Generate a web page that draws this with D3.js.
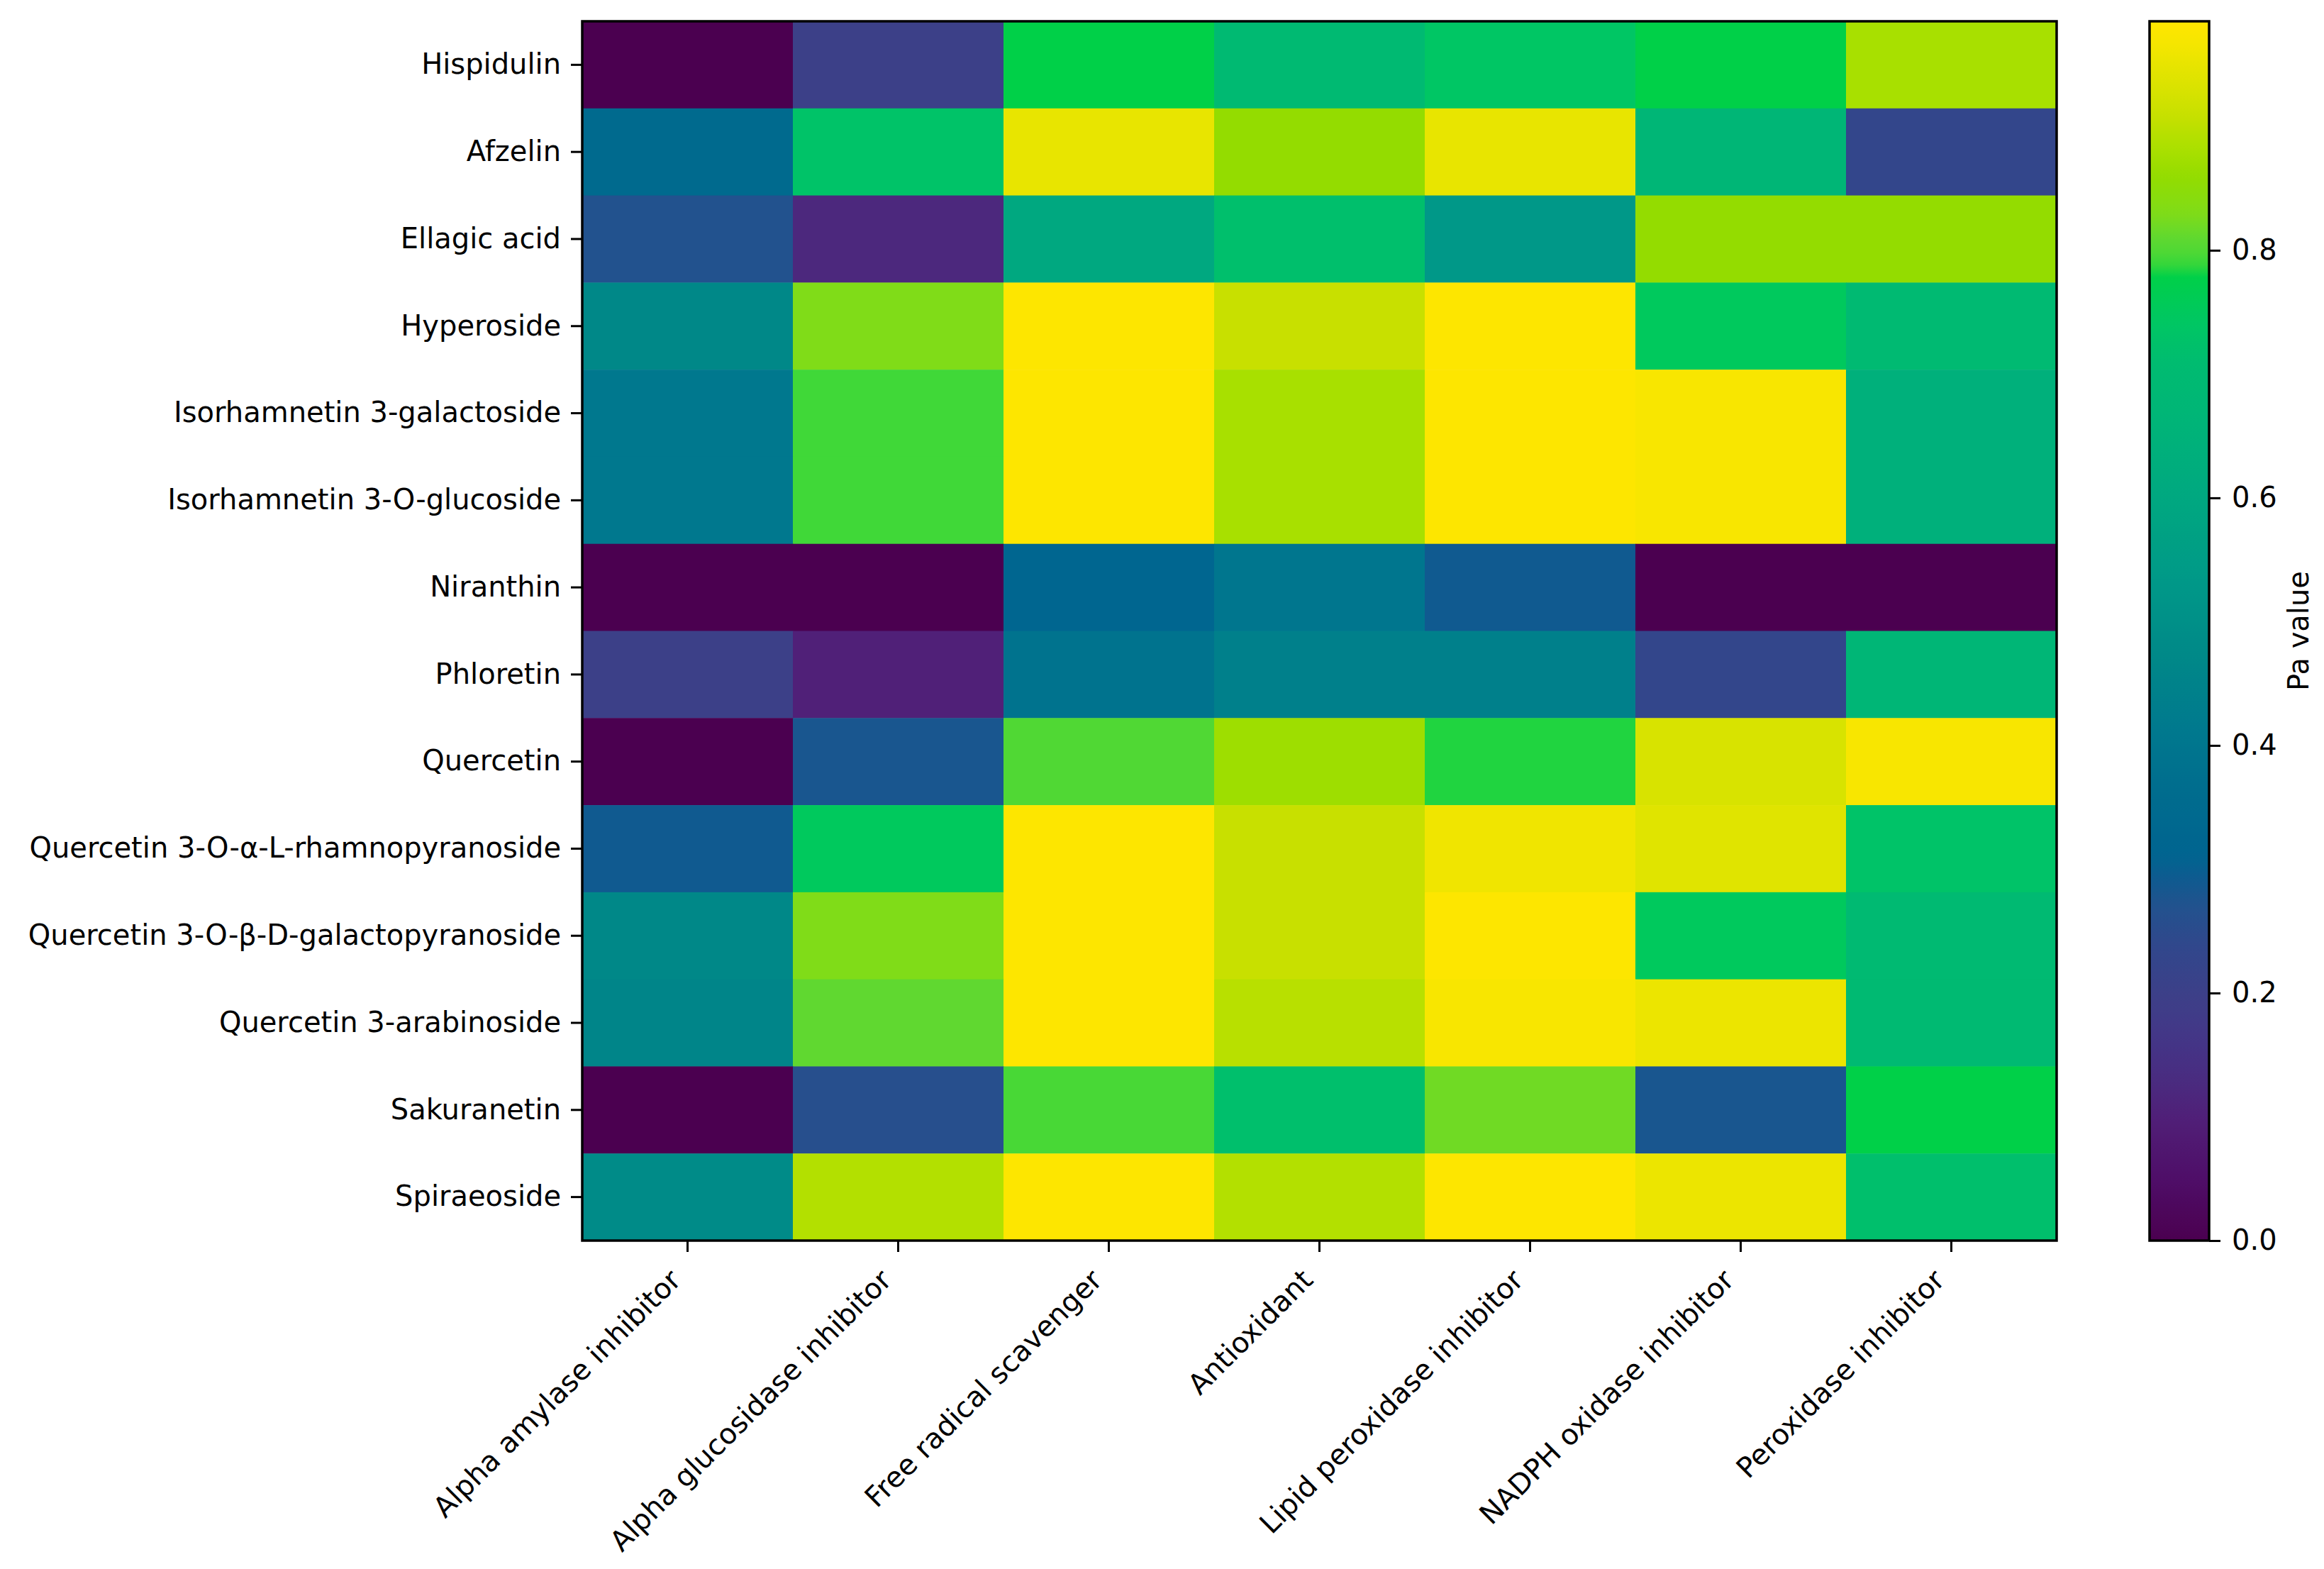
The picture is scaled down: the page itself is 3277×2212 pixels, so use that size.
<!DOCTYPE html>
<html>
<head>
<meta charset="utf-8">
<script src="https://cdn.jsdelivr.net/npm/d3@7"></script>
<style>
	body { margin: 0; background: #fff; }
	text { font-family: "DejaVu Sans", sans-serif; fill: #000; }
</style>
</head>
<body>
<svg id="chart" width="3277" height="2212"></svg>
<script>
// Rows (compounds), top to bottom
var compounds = [
	"Hispidulin", "Afzelin", "Ellagic acid", "Hyperoside",
	"Isorhamnetin 3-galactoside", "Isorhamnetin 3-O-glucoside", "Niranthin",
	"Phloretin", "Quercetin", "Quercetin 3-O-\u03b1-L-rhamnopyranoside",
	"Quercetin 3-O-\u03b2-D-galactopyranoside", "Quercetin 3-arabinoside",
	"Sakuranetin", "Spiraeoside"
];

// Columns (activities)
var activities = [
	"Alpha amylase inhibitor", "Alpha glucosidase inhibitor", "Free radical scavenger",
	"Antioxidant", "Lipid peroxidase inhibitor", "NADPH oxidase inhibitor", "Peroxidase inhibitor"
];

// Pa values, one row per compound, in activity order
var paHispidulin   = [0.00, 0.20, 0.78, 0.70, 0.74, 0.78, 0.88];
var paAfzelin      = [0.35, 0.73, 0.95, 0.86, 0.95, 0.67, 0.23];
var paEllagic      = [0.27, 0.12, 0.60, 0.72, 0.53, 0.86, 0.86];
var paHyperoside   = [0.47, 0.83, 0.98, 0.91, 0.98, 0.75, 0.70];
var paIsoGal       = [0.41, 0.79, 0.98, 0.88, 0.98, 0.97, 0.64];
var paIsoGlc       = [0.41, 0.79, 0.98, 0.88, 0.98, 0.97, 0.64];
var paNiranthin    = [0.00, 0.00, 0.32, 0.40, 0.29, 0.00, 0.00];
var paPhloretin    = [0.20, 0.10, 0.39, 0.44, 0.44, 0.23, 0.67];
var paQuercetin    = [0.00, 0.28, 0.80, 0.87, 0.785, 0.93, 0.97];
var paQRham        = [0.29, 0.75, 0.98, 0.91, 0.96, 0.94, 0.73];
var paQGal         = [0.47, 0.83, 0.98, 0.91, 0.98, 0.75, 0.70];
var paQAra         = [0.46, 0.81, 0.98, 0.895, 0.97, 0.955, 0.70];
var paSakuranetin  = [0.00, 0.26, 0.795, 0.72, 0.82, 0.28, 0.78];
var paSpiraeoside  = [0.48, 0.89, 0.98, 0.89, 0.98, 0.955, 0.72];

var paRows = [paHispidulin, paAfzelin, paEllagic, paHyperoside, paIsoGal, paIsoGlc,
	paNiranthin, paPhloretin, paQuercetin, paQRham, paQGal, paQAra, paSakuranetin, paSpiraeoside];

var colorTicks = [0, 0.2, 0.4, 0.6, 0.8];
var vmax = 0.985;

// Colour map (saturated viridis-like)
var cmap = [
	[0.00, "#4b0050"], [0.05, "#4f0e68"], [0.10, "#502078"], [0.13, "#4a2c80"],
	[0.17, "#423888"], [0.20, "#3c4088"], [0.24, "#30488c"], [0.27, "#22528e"],
	[0.295, "#0c5c90"], [0.31, "#006490"], [0.36, "#006c8e"], [0.41, "#00788e"],
	[0.47, "#008888"], [0.53, "#009888"], [0.60, "#00a880"], [0.66, "#00b478"],
	[0.71, "#00bc70"], [0.74, "#00c664"], [0.78, "#00d048"], [0.79, "#40d838"],
	[0.81, "#60d830"], [0.83, "#80dc18"], [0.86, "#94dc00"], [0.88, "#a8e000"],
	[0.91, "#c8e000"], [0.94, "#e0e400"], [0.97, "#f8e600"], [0.985, "#ffe600"]
];
var color = d3.scaleLinear()
	.domain(cmap.map(function(d) { return d[0]; }))
	.range(cmap.map(function(d) { return d[1]; }))
	.interpolate(d3.interpolateRgb)
	.clamp(true);

// Layout
var plot = { left: 821, top: 30, right: 2900, bottom: 1749 },
	cbar = { left: 3031, right: 3115 },
	fontSize = 40,
	tickLen = 16,
	lineW = 3.5;

var svg = d3.select('#chart');

var x = d3.scaleBand().domain(activities).range([plot.left, plot.right]).padding(0);
var y = d3.scaleBand().domain(compounds).range([plot.top, plot.bottom]).padding(0);

// Cells
var cells = [];
paRows.forEach(function(row, i) {
	row.forEach(function(v, j) {
		cells.push({ r: compounds[i], c: activities[j], v: v });
	});
});

svg.append('g').attr('class', 'cells')
	.selectAll('rect')
	.data(cells)
	.enter().append('rect')
		.attr('x', function(d) { return x(d.c); })
		.attr('y', function(d) { return y(d.r); })
		.attr('width', x.bandwidth() + 0.5)
		.attr('height', y.bandwidth() + 0.5)
		.style('fill', function(d) { return color(d.v); });

// Frame
svg.append('rect')
	.attr('x', plot.left).attr('y', plot.top)
	.attr('width', plot.right - plot.left).attr('height', plot.bottom - plot.top)
	.style('fill', 'none').style('stroke', '#000').style('stroke-width', lineW);

// Y axis
var yAxis = svg.append('g')
	.attr('transform', 'translate(' + plot.left + ',0)')
	.call(d3.axisLeft(y).tickSize(tickLen).tickPadding(14));
yAxis.select('.domain').remove();
yAxis.selectAll('.tick line').style('stroke-width', lineW - 0.5);
yAxis.selectAll('.tick text')
	.style('font-size', fontSize + 'px')
	.style('font-family', '"DejaVu Sans", sans-serif');

// X axis, labels rotated 45 deg and right-aligned at the tick
var xAxis = svg.append('g')
	.attr('transform', 'translate(0,' + plot.bottom + ')')
	.call(d3.axisBottom(x).tickSize(tickLen).tickPadding(14));
xAxis.select('.domain').remove();
xAxis.selectAll('.tick line').style('stroke-width', lineW - 0.5);
xAxis.selectAll('.tick text')
	.style('font-size', fontSize + 'px')
	.style('font-family', '"DejaVu Sans", sans-serif')
	.attr('text-anchor', 'end')
	.attr('dy', null)
	.attr('y', null)
	.attr('transform', 'translate(-7,' + (tickLen + 16 + 26) + ') rotate(-45)');

// Colour bar
var cy = d3.scaleLinear().domain([0, vmax]).range([plot.bottom, plot.top]);

var grad = svg.append('defs').append('linearGradient')
	.attr('id', 'cbgrad')
	.attr('x1', 0).attr('y1', 1).attr('x2', 0).attr('y2', 0);
grad.selectAll('stop')
	.data(d3.range(0, 101))
	.enter().append('stop')
		.attr('offset', function(d) { return d + '%'; })
		.attr('stop-color', function(d) { return color(d / 100 * vmax); });

svg.append('rect')
	.attr('x', cbar.left).attr('y', plot.top)
	.attr('width', cbar.right - cbar.left).attr('height', plot.bottom - plot.top)
	.style('fill', 'url(#cbgrad)')
	.style('stroke', '#000').style('stroke-width', lineW);

var cAxis = svg.append('g')
	.attr('transform', 'translate(' + cbar.right + ',0)')
	.call(d3.axisRight(cy).tickValues(colorTicks).tickFormat(d3.format('.1f')).tickSize(tickLen).tickPadding(16));
cAxis.select('.domain').remove();
cAxis.selectAll('.tick line').style('stroke-width', lineW - 0.5);
cAxis.selectAll('.tick text')
	.style('font-size', fontSize + 'px')
	.style('font-family', '"DejaVu Sans", sans-serif');

svg.append('text')
	.attr('transform', 'translate(3255,' + ((plot.top + plot.bottom) / 2) + ') rotate(-90)')
	.attr('text-anchor', 'middle')
	.style('font-size', fontSize + 'px')
	.text('Pa value');
</script>
</body>
</html>
